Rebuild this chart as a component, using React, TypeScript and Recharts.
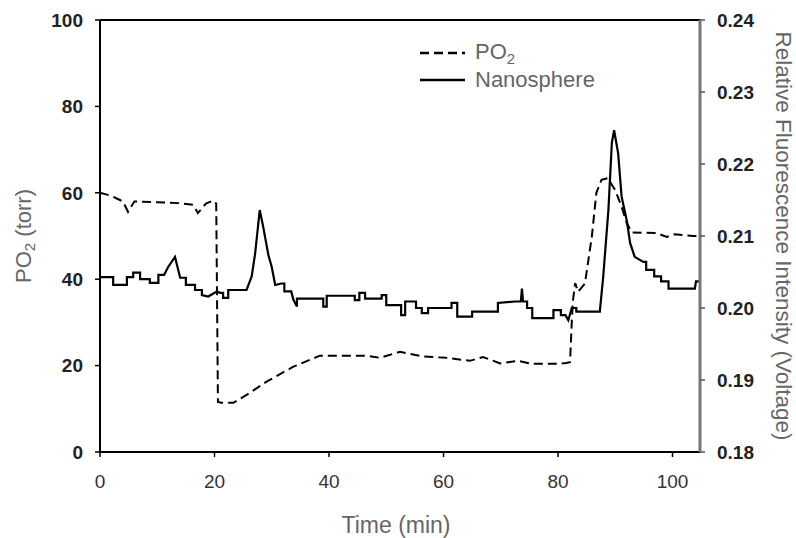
import React from 'react';
import { LineChart, Line, XAxis, YAxis, ReferenceLine, Label } from 'recharts';

const font = '"Liberation Sans", Arial, sans-serif';

const timeTicks = [0, 20, 40, 60, 80, 100];
const po2Ticks = [0, 20, 40, 60, 80, 100];
const voltTicks = [0.18, 0.19, 0.2, 0.21, 0.22, 0.23, 0.24];

// PO2 (torr), dashed, left axis
const po2Time = [
  0, 2, 4, 4.9, 6, 10, 14, 16.3, 17.1, 18.5, 19.8, 20.3, 20.6, 21.2, 23.3, 25.6,
  29.1, 33.7, 38.4, 40.2, 46.6, 48.9, 52.4, 56.4, 60.5, 64.6, 66.9, 69.9, 73, 75.4,
  80.3, 81.4, 82.1, 82.4, 82.6, 83, 83.5, 84.7, 85.9, 86.7, 87.6, 88.7, 90, 91.1,
  92, 92.9, 97.2, 99, 100.4, 103.6, 104.8,
];
const po2Values = [
  60, 59.3, 58, 55.6, 58, 57.8, 57.6, 57.2, 55.3, 57.5, 58.2, 57.5, 11.6, 11.4, 11.4, 13.2,
  16.3, 19.7, 22.3, 22.3, 22.3, 21.8, 23.2, 22.1, 21.8, 21.1, 22, 20.5, 21.1, 20.4,
  20.4, 20.6, 20.8, 30, 35, 39.1, 37.1, 39, 49.8, 60, 63, 63.4, 60.6, 56.8,
  53, 50.8, 50.7, 49.8, 50.4, 50, 50,
];

// Nanosphere relative fluorescence (V), solid, right axis (corners of the trace)
const nanoTime = [
  0, 2.3, 2.3, 4.7, 4.7, 5.8, 5.8, 7, 7, 8.7, 8.7, 10.2, 10.2, 11.2, 11.9, 13.1,
  14, 15, 15, 16.6, 16.6, 17.8, 17.8, 18.9, 20.4, 21, 21.5, 21.5, 22.4, 22.4, 25.6,
  26.5, 27.1, 27.9, 28.5, 29.4, 30, 30.6, 31.7, 32.2, 32.2, 33.4, 33.8, 34.4, 34.4,
  39, 39, 39.6, 39.6, 44.5, 44.5, 45.3, 45.3, 46.3, 46.3, 49.2, 49.2, 50, 50, 52.6,
  52.6, 53.3, 53.3, 55.2, 55.2, 56.2, 56.2, 57.3, 57.3, 61.4, 61.4, 62.4, 62.4, 65,
  65, 69.5, 69.5, 72.5, 73.5, 73.7, 73.9, 74.6, 74.6, 75.5, 75.5, 79.2, 79.2, 80.5,
  80.5, 81.3, 81.8, 82.4, 83.2, 83.2, 87.3, 87.9, 88.8, 89.4, 89.8, 90.5, 91.1, 92,
  92.6, 93.4, 94.9, 95.4, 95.4, 96.8, 96.8, 98, 98, 99.3, 99.3, 103.9, 104.1, 104.8,
];
const nanoValues = [
  0.2043, 0.2043, 0.2032, 0.2032, 0.2043, 0.2043, 0.2049, 0.2049, 0.204, 0.204, 0.2035, 0.2035, 0.2046, 0.2046, 0.2057, 0.2071,
  0.2042, 0.2042, 0.2032, 0.2032, 0.2025, 0.2025, 0.2018, 0.2016, 0.2023, 0.2021, 0.2021, 0.2014, 0.2014, 0.2025, 0.2025,
  0.2044, 0.2076, 0.2136, 0.2113, 0.2074, 0.2057, 0.2032, 0.2034, 0.2034, 0.2023, 0.2023, 0.2011, 0.2002, 0.2013,
  0.2013, 0.2002, 0.2002, 0.2017, 0.2017, 0.2011, 0.2011, 0.2021, 0.2021, 0.2013, 0.2013, 0.2018, 0.2018, 0.2004, 0.2004,
  0.199, 0.199, 0.2009, 0.2009, 0.2, 0.2, 0.1993, 0.1993, 0.2, 0.2, 0.2007, 0.2007, 0.1988, 0.1988,
  0.1995, 0.1995, 0.2007, 0.2009, 0.2009, 0.2027, 0.2009, 0.2009, 0.2, 0.2, 0.1986, 0.1986, 0.1997, 0.1997,
  0.199, 0.199, 0.1983, 0.2, 0.2, 0.1995, 0.1995, 0.2044, 0.2136, 0.2229, 0.2247, 0.2215, 0.2155, 0.2122,
  0.209, 0.2071, 0.2064, 0.2064, 0.2053, 0.2053, 0.2044, 0.2044, 0.2037, 0.2037, 0.2027, 0.2027, 0.2037, 0.2037,
];

const po2Data = po2Time.map((t, i) => ({ t, po2: po2Values[i] }));
const nanoData = nanoTime.map((t, i) => ({ t, nano: nanoValues[i] }));

const titleStyle = { fontFamily: font, fontSize: 22, fill: '#666' };

const LeftTitle = ({ viewBox }: any) => {
  const cx = viewBox.x + 23;
  const cy = viewBox.y + viewBox.height / 2;
  return (
    <text x={cx} y={cy} transform={`rotate(-90 ${cx} ${cy})`} textAnchor="middle" dominantBaseline="central" {...titleStyle}>
      PO<tspan fontSize={15} dy={6}>2</tspan><tspan dy={-6}> (torr)</tspan>
    </text>
  );
};

const RightTitle = ({ viewBox }: any) => {
  const cx = viewBox.x + 83;
  const cy = viewBox.y + viewBox.height / 2;
  return (
    <text x={cx} y={cy} transform={`rotate(90 ${cx} ${cy})`} textAnchor="middle" dominantBaseline="central" {...titleStyle} fontSize={22.5}>
      Relative Fluorescence Intensity (Voltage)
    </text>
  );
};

const BottomTitle = ({ viewBox }: any) => (
  <text x={viewBox.x + viewBox.width / 2 - 4} y={viewBox.y + 81} textAnchor="middle" {...titleStyle} fontSize={23}>
    Time (min)
  </text>
);

const legendText = { fontFamily: font, fontSize: 22, color: '#666', lineHeight: '28px' };

export default function App() {
  return (
    <div style={{ position: 'relative', width: 796, height: 538, background: '#fff' }}>
      <style>{'body{margin:0;background:#fff}'}</style>
      <LineChart width={796} height={538} margin={{ top: 20, right: 0, bottom: 0, left: 0 }}>
        <XAxis
          dataKey="t"
          type="number"
          domain={[0, 104.8]}
          ticks={timeTicks}
          height={86}
          tickSize={5}
          tickMargin={18}
          axisLine={{ stroke: '#000', strokeWidth: 2 }}
          tickLine={{ stroke: '#000', strokeWidth: 1.5 }}
          tick={{ fill: '#333', fontSize: 19, fontFamily: font }}
        >
          <Label content={BottomTitle} />
        </XAxis>
        <YAxis
          yAxisId="left"
          domain={[0, 100]}
          ticks={po2Ticks}
          width={100}
          tickSize={5}
          tickMargin={12}
          axisLine={{ stroke: '#000', strokeWidth: 2 }}
          tickLine={{ stroke: '#000', strokeWidth: 1.5 }}
          tick={{ fill: '#222', fontSize: 19, fontWeight: 'bold', fontFamily: font }}
        >
          <Label content={LeftTitle} />
        </YAxis>
        <YAxis
          yAxisId="right"
          orientation="right"
          domain={[0.18, 0.24]}
          ticks={voltTicks}
          width={96}
          tickSize={5}
          tickMargin={12}
          tickFormatter={(v: number) => v.toFixed(2)}
          axisLine={{ stroke: '#777', strokeWidth: 3 }}
          tickLine={{ stroke: '#555', strokeWidth: 1.5 }}
          tick={{ fill: '#222', fontSize: 19, fontWeight: 'bold', fontFamily: font }}
        >
          <Label content={RightTitle} />
        </YAxis>
        <ReferenceLine yAxisId="left" y={100} stroke="#000" strokeWidth={2} />
        <Line
          data={po2Data}
          dataKey="po2"
          yAxisId="left"
          type="linear"
          stroke="#000"
          strokeWidth={2}
          strokeDasharray="9 5"
          dot={false}
          isAnimationActive={false}
        />
        <Line
          data={nanoData}
          dataKey="nano"
          yAxisId="right"
          type="linear"
          stroke="#000"
          strokeWidth={2.2}
          dot={false}
          isAnimationActive={false}
        />
      </LineChart>
      <div style={{ position: 'absolute', left: 419, top: 38 }}>
        <div style={{ display: 'flex', alignItems: 'center', ...legendText }}>
          <svg width={46} height={28}>
            <line x1={1} y1={15} x2={46} y2={15} stroke="#000" strokeWidth={2.5} strokeDasharray="9 5" />
          </svg>
          <span style={{ marginLeft: 10 }}>PO<sub style={{ fontSize: 15, verticalAlign: -5, lineHeight: 0 }}>2</sub></span>
        </div>
        <div style={{ display: 'flex', alignItems: 'center', ...legendText }}>
          <svg width={46} height={28}>
            <line x1={1} y1={14} x2={46} y2={14} stroke="#000" strokeWidth={2.5} />
          </svg>
          <span style={{ marginLeft: 10 }}>Nanosphere</span>
        </div>
      </div>
    </div>
  );
}
